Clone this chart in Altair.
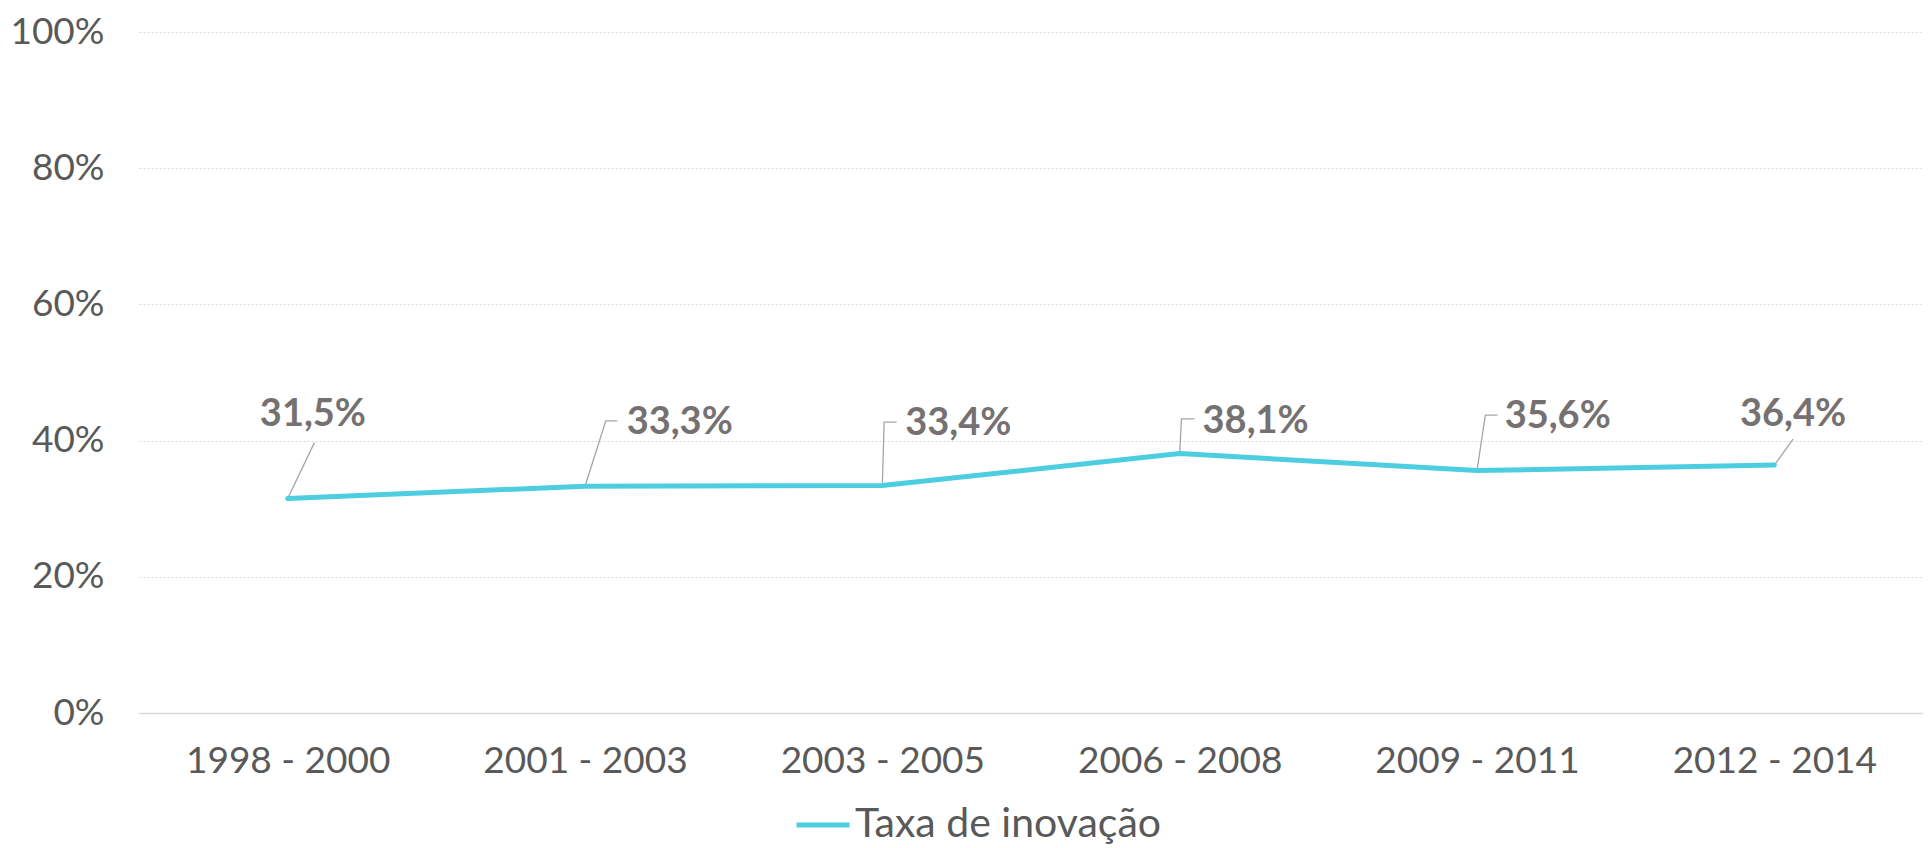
import altair as alt
import pandas as pd

# ---- data ----
periods = ["1998 - 2000", "2001 - 2003", "2003 - 2005", "2006 - 2008", "2009 - 2011", "2012 - 2014"]
rates = [31.5, 33.3, 33.4, 38.1, 35.6, 36.4]
series_name = "Taxa de inovação"
y_ticks = [0, 20, 40, 60, 80, 100]

# annotation placement (data units: index offset, percent)
label_dx = [0.085, 0.14, 0.077, 0.077, 0.093, 0.063]
label_y = [43.7, 42.6, 42.4, 42.7, 43.4, 43.7]
label_align = ["center", "left", "left", "left", "left", "center"]
elbow_dx = [0.09, 0.07, 0.006, 0.006, 0.028, 0.063]
elbow_y = [39.7, 42.9, 42.7, 43.2, 43.75, 40.2]
end_dx = [0.09, 0.109, 0.048, 0.05, 0.069, 0.063]

FONT = "Lato"
AXIS_COLOR = "#595959"
LABEL_COLOR = "#767171"
LINE_COLOR = "#4DCDE0"

line_df = pd.DataFrame({
    "idx": list(range(len(periods))),
    "val": rates,
    "series": [series_name] * len(periods),
})

lab_df = pd.DataFrame({
    "lx": [i + d for i, d in enumerate(label_dx)],
    "ly": label_y,
    "txt": [f"{v:.1f}%".replace(".", ",") for v in rates],
    "align": label_align,
})

rows = []
for i, v in enumerate(rates):
    rows.append({"g": i, "o": 0, "x": i, "y": v})
    rows.append({"g": i, "o": 1, "x": i + elbow_dx[i], "y": elbow_y[i]})
    rows.append({"g": i, "o": 2, "x": i + end_dx[i], "y": elbow_y[i]})
lead_df = pd.DataFrame(rows)

labels_js = "[" + ",".join(f"'{p}'" for p in periods) + "]"

x_scale = alt.Scale(domain=[-0.5, len(periods) - 0.5], nice=False, zero=False)
y_scale = alt.Scale(domain=[0, 100], nice=False)

x_axis = alt.Axis(
    values=list(range(len(periods))),
    labelExpr=f"{labels_js}[datum.value]",
    title=None, grid=False, ticks=False, tickSize=0,
    domainColor="#D9D9D9", domainWidth=1.5,
    labelFont=FONT, labelFontSize=37, labelColor=AXIS_COLOR,
    labelPadding=30, labelOverlap=False, labelLimit=0,
)
y_axis = alt.Axis(
    values=y_ticks,
    labelExpr="datum.value + '%'",
    title=None, domain=False, ticks=False, tickSize=0,
    grid=True, gridColor="#D9D9D9", gridDash=[2, 2], gridWidth=1.2,
    labelFont=FONT, labelFontSize=37, labelColor=AXIS_COLOR,
    labelPadding=35, labelLimit=0,
)

line = alt.Chart(line_df).mark_line(
    strokeWidth=5, strokeCap="round", strokeJoin="round"
).encode(
    x=alt.X("idx:Q", scale=x_scale, axis=x_axis),
    y=alt.Y("val:Q", scale=y_scale, axis=y_axis),
    color=alt.Color(
        "series:N",
        scale=alt.Scale(range=[LINE_COLOR]),
        legend=alt.Legend(
            orient="none", legendX=655, legendY=764, title=None,
            direction="horizontal",
            symbolType="stroke", symbolStrokeWidth=5, symbolSize=2809,
            labelFont=FONT, labelFontSize=41, labelColor=AXIS_COLOR,
            labelOffset=3, labelLimit=0,
        ),
    ),
)

leaders = alt.Chart(lead_df).mark_line(
    color="#A5A5A5", strokeWidth=1.3
).encode(
    x=alt.X("x:Q", scale=x_scale),
    y=alt.Y("y:Q", scale=y_scale),
    detail="g:N",
    order="o:Q",
)

text_c = alt.Chart(lab_df).transform_filter(alt.datum.align == "center").mark_text(
    align="center", baseline="middle", font=FONT, fontSize=38, fontWeight="bold",
    color=LABEL_COLOR,
).encode(
    x=alt.X("lx:Q", scale=x_scale),
    y=alt.Y("ly:Q", scale=y_scale),
    text="txt:N",
)

text_l = alt.Chart(lab_df).transform_filter(alt.datum.align == "left").mark_text(
    align="left", baseline="middle", font=FONT, fontSize=38, fontWeight="bold",
    color=LABEL_COLOR,
).encode(
    x=alt.X("lx:Q", scale=x_scale),
    y=alt.Y("ly:Q", scale=y_scale),
    text="txt:N",
)

chart = alt.layer(leaders, line, text_c, text_l).properties(
    width=1784,
    height=681,
    autosize=alt.AutoSizeParams(type="none"),
    padding={"left": 131, "top": 24, "right": 0, "bottom": 135},
    background="white",
).configure_view(stroke=None)

chart.save("out.html", embed_options={"renderer": "svg", "actions": False})
